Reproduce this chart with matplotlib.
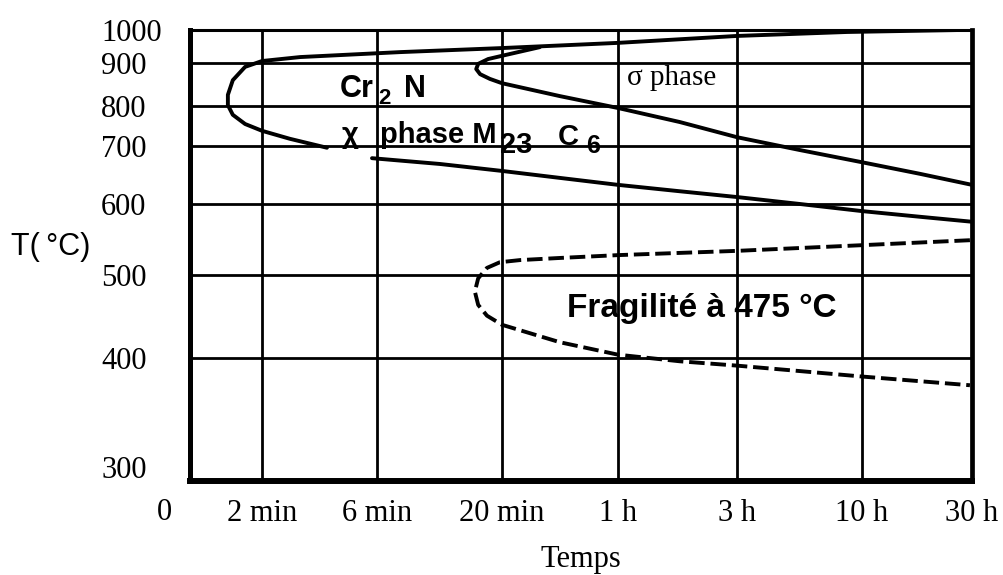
import numpy as np
import matplotlib.pyplot as plt

SERIF = "Liberation Serif"
SANS = "Liberation Sans"

# --- data (time in minutes, temperature in degC) ---
# Cr2N / chi / M23C6 C-curve (upper branch -> nose -> lower branch)
cr2n_t = [1600, 519, 180, 60, 19.6, 7.5, 2.88, 2.0, 1.70, 1.51, 1.44, 1.44, 1.51, 1.70, 2.0, 2.61, 3.72]
cr2n_T = [1000, 994, 982, 961, 945, 933, 918, 906, 891, 860, 826, 802, 778, 755, 738, 718, 697]

# sigma phase curve (leaves the upper branch, nose near 20 min)
sigma_t = [28.6, 20.6, 17.5, 15.9, 15.6, 16.2, 17.8, 20, 34.6, 60, 106, 180, 330, 600, 1071, 1800]
sigma_T = [948, 924, 912, 898, 886, 874, 863, 853, 823, 795, 760, 722, 693, 672, 652, 633]

# M23C6 lower limit
m23_t = [5.72, 11.0, 20, 34.6, 60, 106, 180, 330, 600, 1071, 1800]
m23_T = [679, 669, 657, 645, 633, 622, 612, 600, 590, 582, 575]

# 475 degC embrittlement (dashed)
frag_t = [1763, 600, 180, 60, 34.6, 23.7, 19.6, 17.3, 15.9, 15.4, 15.9, 17.3, 20, 34.6, 60, 106, 180, 330, 600, 1763]
frag_T = [549, 542, 534, 528, 524, 521, 518, 510, 496, 480, 464, 451, 440, 419, 404, 397, 393, 388, 383, 375]

x_ticks = [2, 6, 20, 60, 180, 600, 1800]
x_labels = ["2 min", "6 min", "20 min", "1 h", "3 h", "10 h", "30 h"]
y_ticks = [300, 400, 500, 600, 700, 800, 900, 1000]

# --- axis warp: the scanned grid is not evenly spaced, so map through gridline positions ---
LOGT_KNOTS = np.log10([1, 2, 6, 20, 60, 180, 600, 1800])
X_FRAC = (np.array([190, 262, 377, 502, 618, 737, 862, 972]) - 190) / 782
T_KNOTS = [285, 300, 400, 500, 600, 700, 800, 900, 1000]
Y_FRAC = (481 - np.array([481, 467, 358, 275, 204, 146, 106, 63, 30])) / 451


def fwd_x(t):
    return np.interp(np.log10(np.clip(t, 1e-6, None)), LOGT_KNOTS, X_FRAC)


def inv_x(u):
    return 10 ** np.interp(u, X_FRAC, LOGT_KNOTS)


def fwd_y(T):
    return np.interp(T, T_KNOTS, Y_FRAC)


def inv_y(u):
    return np.interp(u, Y_FRAC, T_KNOTS)


fig = plt.figure(figsize=(10.04, 5.75), dpi=100)
ax = fig.add_axes([190 / 1004, 1 - 481 / 575, 782 / 1004, 451 / 575])
ax.set_xscale("function", functions=(fwd_x, inv_x))
ax.set_yscale("function", functions=(fwd_y, inv_y))
ax.set_xlim(1, 1800)
ax.set_ylim(285, 1000)

ax.set_xticks(x_ticks)
ax.set_xticklabels(x_labels, fontfamily=SERIF, fontsize=22)
ax.set_xticks([], minor=True)
ax.set_yticks(y_ticks)
ax.set_yticklabels([str(v) for v in y_ticks], fontfamily=SERIF, fontsize=22)
ax.set_yticks([], minor=True)
ax.tick_params(axis="x", length=0, pad=13)
ax.tick_params(axis="y", length=0, pad=64)
for lab in ax.get_yticklabels():
    lab.set_horizontalalignment("left")

ax.grid(True, color="black", linewidth=2.0)
ax.get_ygridlines()[0].set_visible(False)  # no gridline at 300
ax.set_axisbelow(True)

for side, lw in {"left": 3.6, "bottom": 4.3, "right": 3.4, "top": 2.2}.items():
    ax.spines[side].set_linewidth(lw)
    ax.spines[side].set_color("black")

kw = dict(color="black", linewidth=2.8, solid_capstyle="round")
ax.plot(cr2n_t, cr2n_T, **kw)
ax.plot(sigma_t, sigma_T, **kw)
ax.plot(m23_t, m23_T, **kw)
ax.plot(frag_t, frag_T, color="black", linewidth=2.8, linestyle=(0, (4, 1.5)))


# labels inside the plot, placed by pixel position of the scan (left edge, baseline)
def label(px, py, s, size, family=SANS, weight="bold"):
    ax.text((px - 190) / 782, (481 - py) / 451, s, transform=ax.transAxes,
            fontfamily=family, fontweight=weight, fontsize=size, va="baseline")


label(340, 97, "Cr", 22)
label(378, 104, "2", 16)
label(404, 97, "N", 22)
label(342, 143, "χ", 21)
label(380, 143, "phase M", 21)
label(500, 153, "23", 21)
label(558, 145, "C", 21)
label(586, 153, "6", 18)
label(627, 85, "σ phase", 21, family=SERIF, weight="normal")
label(567, 317, "Fragilité à 475 °C", 24)

fig.text(164 / 1004, 1 - 512 / 575, "0", fontfamily=SERIF, fontsize=22, ha="center", va="center")
ax.set_xlabel("Temps", fontfamily=SERIF, fontsize=22, labelpad=12)
ax.set_ylabel("T(\u2009°C)", fontfamily=SANS, fontsize=22, rotation=0, ha="center", va="center")
ax.yaxis.set_label_coords((51 - 190) / 782, (481 - 247) / 451)

fig.savefig("out.png", dpi=100)
